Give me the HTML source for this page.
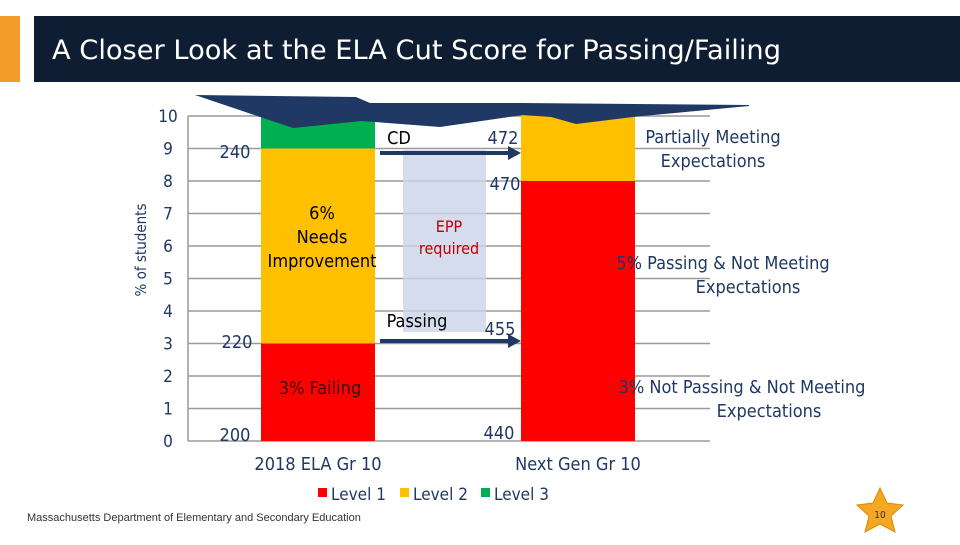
<!DOCTYPE html>
<html><head><meta charset="utf-8"><style>
body{margin:0;width:960px;height:540px;background:#fff;overflow:hidden;font-family:"Liberation Sans",sans-serif}
svg text{font-family:"DejaVu Sans Condensed","Liberation Sans",sans-serif}
</style></head><body>
<svg width="960" height="540" viewBox="0 0 960 540">
<rect x="0" y="16" width="20" height="66" fill="#f39c2b"/>
<rect x="34" y="16" width="926" height="66" fill="#0f1d33"/>
<text x="52" y="59" font-size="27" fill="#fff" textLength="729" lengthAdjust="spacingAndGlyphs" style="font-family:'DejaVu Sans','Liberation Sans',sans-serif">A Closer Look at the ELA Cut Score for Passing/Failing</text>
<g id="grid"></g>
<rect x="403" y="150" width="83" height="182" fill="#c9d3e8" opacity="0.8"/>
<g id="bars"></g>
<polygon points="195,95 356,97 370,103 521,103 749,105 749,106 633,117 576,124 551,117 523,115 440,127 362,121 293,128" fill="#1f3864"/>
<g fill="#1f3864"><rect x="380" y="151" width="130" height="4"/><polygon points="508,146 521,153 508,160"/></g>
<g fill="#1f3864"><rect x="380" y="339" width="130" height="4"/><polygon points="508,334 521,341 508,348"/></g>
<text x="146" y="250" font-size="15" fill="#1f3864" transform="rotate(-90 146 250)" text-anchor="middle">% of students</text>
<g font-size="18" fill="#1f3864" text-anchor="middle">
<text x="235" y="158">240</text>
<text x="237" y="348">220</text>
<text x="235" y="441">200</text>
<text x="503" y="144">472</text>
<text x="505" y="190">470</text>
<text x="500" y="335">455</text>
<text x="499" y="439">440</text>
</g>
<g font-size="18" fill="#000" text-anchor="middle">
<text x="399" y="144">CD</text>
<text x="322" y="219">6%</text>
<text x="322" y="243">Needs</text>
<text x="322" y="267">Improvement</text>
<text x="417" y="327">Passing</text>
<text x="320" y="394" fill="#3a0a0a">3% Failing</text>
</g>
<g font-size="16" fill="#c00000" text-anchor="middle"><text x="449" y="232">EPP</text><text x="449" y="254">required</text></g>
<g font-size="18" fill="#1f3864" text-anchor="middle">
<text x="713" y="143">Partially Meeting</text>
<text x="713" y="167">Expectations</text>
<text x="723" y="269">5%  Passing &amp; Not Meeting</text>
<text x="748" y="293">Expectations</text>
<text x="742" y="393">3% Not Passing &amp; Not Meeting</text>
<text x="769" y="417">Expectations</text>
<text x="318" y="470">2018 ELA Gr 10</text>
<text x="578" y="470">Next Gen Gr 10</text>
</g>
<g font-size="17" fill="#1f3864">
<rect x="318" y="488" width="9" height="9" fill="#ff0000"/><text x="331" y="500">Level 1</text>
<rect x="400" y="488" width="9" height="9" fill="#ffc000"/><text x="413" y="500">Level 2</text>
<rect x="481" y="488" width="9" height="9" fill="#00b050"/><text x="494" y="500">Level 3</text>
</g>
<text x="27" y="521" font-size="11" fill="#333" style="font-family:'Liberation Sans',sans-serif">Massachusetts Department of Elementary and Secondary Education</text>
<polygon points="880,488 887,503 903,505 891,516 895,532 880,524 865,532 869,516 857,505 873,503" fill="#f5a623" stroke="#e08a00"/>
<text x="880" y="518" font-size="10" text-anchor="middle" fill="#333">10</text>
</svg>
<script>
const ticks=[0,1,2,3,4,5,6,7,8,9,10];
const categories=["2018 ELA Gr 10","Next Gen Gr 10"];
const level1=[3,8];
const level2=[6,2];
const level3=[1,0];
const NS="http://www.w3.org/2000/svg";
const y0=441,unit=32.5;
function yS(v){return y0-v*unit;}
const barX=[261,521],barW=114;
const grid=document.getElementById('grid');
ticks.forEach(t=>{
 const l=document.createElementNS(NS,'line');
 l.setAttribute('x1',188);l.setAttribute('x2',t===0?188:710);l.setAttribute('y1',yS(t));l.setAttribute('y2',yS(t));
 l.setAttribute('stroke','#9a9a9a');l.setAttribute('stroke-width','1.5');
 
 
 grid.appendChild(l);
 const tx=document.createElementNS(NS,'text');
 tx.setAttribute('x',168);tx.setAttribute('y',yS(t)+6);tx.setAttribute('font-size','17');tx.setAttribute('fill','#1f3864');tx.setAttribute('text-anchor','middle');
 tx.textContent=t;
 
 
 grid.appendChild(tx);
});
const ax=document.createElementNS(NS,'line');
ax.setAttribute('x1',188);ax.setAttribute('x2',188);ax.setAttribute('y1',yS(10));ax.setAttribute('y2',y0);ax.setAttribute('stroke','#9a9a9a');ax.setAttribute('stroke-width','1.5');


grid.appendChild(ax);
const xa=document.createElementNS(NS,'line');
xa.setAttribute('x1',188);xa.setAttribute('x2',710);xa.setAttribute('y1',y0);xa.setAttribute('y2',y0);xa.setAttribute('stroke','#9a9a9a');xa.setAttribute('stroke-width','1.5');


grid.appendChild(xa);
const bars=document.getElementById('bars');
const series=[[level1,'#ff0000','level-1'],[level2,'#ffc000','level-2'],[level3,'#00b050','level-3']];
categories.forEach((c,i)=>{
 let base=0;
 series.forEach(([arr,col,nm])=>{
  const v=arr[i];if(v<=0)return;
  const r=document.createElementNS(NS,'rect');
  r.setAttribute('x',barX[i]);r.setAttribute('width',barW);r.setAttribute('y',yS(base+v));r.setAttribute('height',v*unit);r.setAttribute('fill',col);
  
  
  bars.appendChild(r);base+=v;
 });
});
</script>
</body></html>
